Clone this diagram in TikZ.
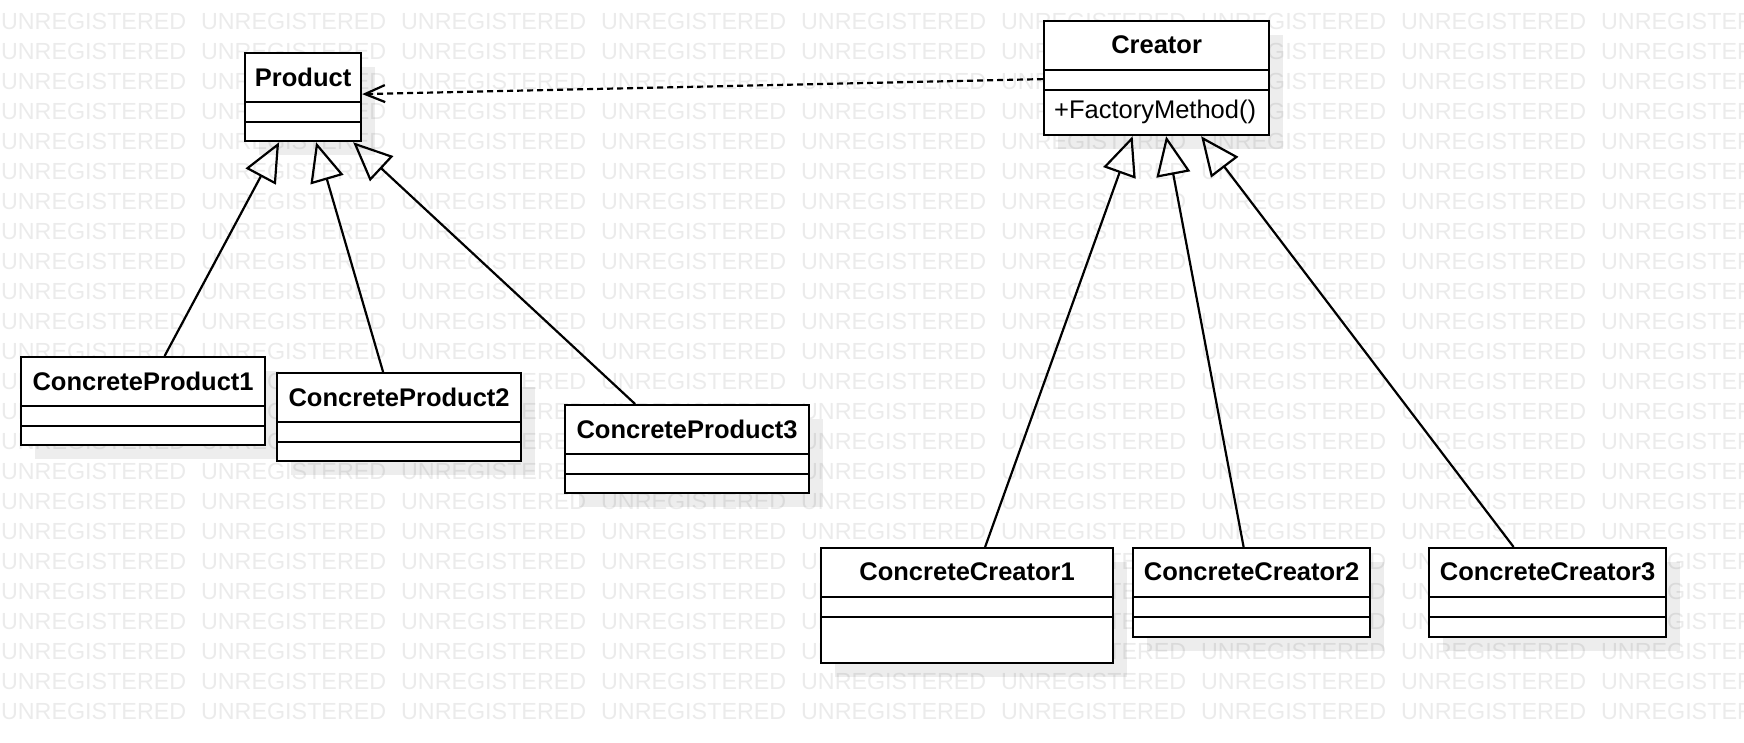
\documentclass[tikz,border=0pt]{standalone}
\usepackage{fontspec}
\setmainfont{Liberation Sans}
\usetikzlibrary{arrows.meta,shadows}

\begin{document}
\begin{tikzpicture}[x=1pt,y=-1pt,line width=2.2pt,
        classbox/.style={draw,fill=white,anchor=north west,inner sep=0pt,
            drop shadow={shadow xshift=14pt,shadow yshift=-14pt,fill=black,opacity=0.07}},
        classtitle/.style={font=\bfseries\fontsize{25.5}{30}\selectfont,inner sep=0pt},
        optext/.style={font=\fontsize{25.5}{30}\selectfont,inner sep=0pt,anchor=west},
        watermark/.style={font=\fontsize{23.3}{28}\selectfont,text=black!8,inner sep=0pt,anchor=base west},
        inherit/.style={-{Triangle[open,length=39pt,width=34pt]}},
        depend/.style={dash pattern=on 6pt off 4pt,-{Straight Barb[length=20pt,width=17pt]}}]
    \useasboundingbox (0,0) rectangle (1744,742);
    % watermark
    \foreach \row in {0,...,23}{
        \foreach \col in {0,...,8}{
            \node[watermark] (wm-\row-\col) at (200*\col,29.3+30*\row) {UNREGISTERED};
        }
    }
    % classes
    \node[classbox,minimum width=116pt,minimum height=88pt] (product) at (244,52) {};
    \node[classbox,minimum width=225pt,minimum height=114pt] (creator) at (1043,20) {};
    \node[classbox,minimum width=244pt,minimum height=88pt] (cp1) at (20,356) {};
    \node[classbox,minimum width=244pt,minimum height=88pt] (cp2) at (276,372) {};
    \node[classbox,minimum width=244pt,minimum height=88pt] (cp3) at (564,404) {};
    \node[classbox,minimum width=292pt,minimum height=115pt] (cc1) at (820,547) {};
    \node[classbox,minimum width=237pt,minimum height=89pt] (cc2) at (1132,547) {};
    \node[classbox,minimum width=237pt,minimum height=89pt] (cc3) at (1428,547) {};
    \foreach \c/\t in {product/Product,creator/Creator,cp1/ConcreteProduct1,cp2/ConcreteProduct2,
            cp3/ConcreteProduct3,cc1/ConcreteCreator1,cc2/ConcreteCreator2,cc3/ConcreteCreator3}{
        \node[classtitle] (\c-name) at ([yshift=-25pt]\c.north) {\t};
        \draw ([yshift=-50pt]\c.north west) -- ([yshift=-50pt]\c.north east);
        \draw ([yshift=-70pt]\c.north west) -- ([yshift=-70pt]\c.north east);
    }
    \node[optext] (creator-op) at ([xshift=10pt,yshift=-92pt]creator.north west) {+FactoryMethod()};
    % relations
    \draw[depend] ([yshift=-1pt]creator.west) -- ([yshift=3pt]product.east);
    \draw[inherit] ([xshift=21.5pt]cp1.north) -- ([xshift=-24pt]product.south);
    \draw[inherit] ([xshift=-16pt]cp2.north) -- ([xshift=13pt]product.south);
    \draw[inherit] ([xshift=-52pt]cp3.north) -- ([xshift=50pt]product.south);
    \draw[inherit] ([xshift=18pt]cc1.north) -- ([xshift=-24pt]creator.south);
    \draw[inherit] ([xshift=-8pt]cc2.north) -- ([xshift=9.5pt]creator.south);
    \draw[inherit] ([xshift=-34pt]cc3.north) -- ([xshift=44.5pt]creator.south);
\end{tikzpicture}
\end{document}
